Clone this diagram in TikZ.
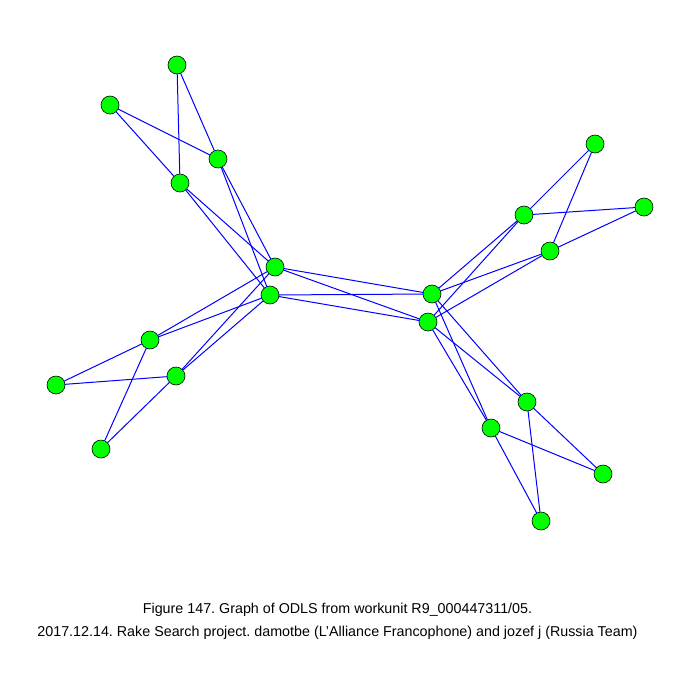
\documentclass[tikz,border=0pt]{standalone}
\usepackage{fontspec}
\setmainfont{Liberation Sans}
\frenchspacing
\definecolor{vgreen}{RGB}{0,255,0}
\definecolor{eblue}{RGB}{0,0,255}

\begin{document}
\begin{tikzpicture}[x=1pt, y=-1pt, line cap=round, line join=round,
    vert/.style={circle, draw=black, line width=0.6pt, fill=vgreen, minimum size=18pt, inner sep=0pt},
    link/.style={eblue, line width=1pt}]
    \path[use as bounding box, fill=white] (0,0) rectangle (675,675);
    % vertices
    \foreach \n/\x/\y in {1/177/65, 2/110/105, 3/218/159, 4/180/183, 5/275/267,
        6/270/295, 7/150/340, 8/176/376, 9/56/385, 10/101/449,
        11/595/144, 12/524/215, 13/644/207, 14/550/251, 15/432/294,
        16/428/322, 17/527/402, 18/491/428, 19/603/474, 20/541/521}
        \node[vert] (v\n) at (\x,\y) {};
    % edges
    \foreach \a/\b in {1/3, 1/4, 2/3, 2/4, 3/5, 3/6, 4/5, 4/6,
        7/5, 7/6, 8/5, 8/6, 7/9, 7/10, 8/9, 8/10,
        5/15, 5/16, 6/15, 6/16,
        11/12, 11/14, 13/12, 13/14, 12/15, 12/16, 14/15, 14/16,
        17/15, 17/16, 18/15, 18/16, 17/19, 17/20, 18/19, 18/20}
        \draw[link] (v\a) -- (v\b);
    % caption
    \node[font=\fontsize{14.3}{23}\selectfont, align=center] (cap) at (337.5,621)
        {Figure 147. Graph of ODLS from workunit R9\_000447311/05.\\
         2017.12.14. Rake Search project. damotbe (L\symbol{39}Alliance Francophone) and jozef j (Russia Team)};
\end{tikzpicture}
\end{document}
